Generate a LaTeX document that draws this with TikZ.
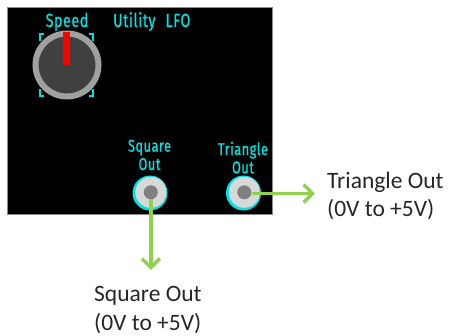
\documentclass[tikz,border=0pt]{standalone}
\usepackage{fontspec}
\setmainfont{Carlito}
\newfontfamily\panelfont[FakeStretch=0.75,FakeBold=0.8,LetterSpace=3]{Fira Sans}
\usetikzlibrary{arrows.meta}
\definecolor{cy}{RGB}{0,225,225}
\definecolor{grn}{RGB}{146,208,80}
\definecolor{knobring}{RGB}{160,160,160}
\definecolor{knobin}{RGB}{64,64,64}
\definecolor{jackgray}{RGB}{216,216,216}
\definecolor{jackin}{RGB}{128,128,128}
\tikzset{
  paneltxt/.style={text=cy, font=\panelfont\fontsize{19}{18.3}\selectfont, inner sep=0pt, align=center},
  jacktxt/.style={paneltxt, font=\panelfont\fontsize{17}{18.3}\selectfont},
  labeltxt/.style={text=black!85, font=\fontsize{23.5}{28.5}\selectfont, inner sep=0pt, align=left},
  jackouter/.style={circle, fill=cy, minimum size=35pt, inner sep=0pt},
  jackmid/.style={circle, fill=jackgray, minimum size=31pt, inner sep=0pt},
  jackcore/.style={circle, fill=jackin, minimum size=14pt, inner sep=0pt},
  outarrow/.style={draw=grn, line width=3.5pt, -{Straight Barb[length=9pt,width=18pt]}},
  bracket/.style={draw=cy, line width=1.5pt},
}
\begin{document}
\begin{tikzpicture}[x=1pt,y=-1pt]
\useasboundingbox (0,0) rectangle (450,335);
% panel
\node[draw=black!45, fill=black, line width=0.8pt, minimum width=265pt, minimum height=207pt, inner sep=0pt, anchor=north west] (panel) at (7,7) {};
% texts on panel
\node[paneltxt, anchor=base] (speed) at (67,27) {Speed};
\node[paneltxt, anchor=base west] (title) at (113,27) {Utility\hspace{10pt}LFO};
% knob brackets
\draw[bracket] (44,34) -- (40,34) -- (40,41);
\draw[bracket] (89,34) -- (93,34) -- (93,41);
\draw[bracket] (44,96) -- (40,96) -- (40,89);
\draw[bracket] (89,96) -- (93,96) -- (93,89);
% knob
\node[circle, fill=knobin, draw=knobring, line width=6pt, minimum size=63pt, inner sep=0pt] (knob) at (67,65) {};
\draw[red, line width=6.5pt] (66.7,32) -- (66.7,64.5);
% jack labels
\node[jacktxt, anchor=base] (sqlbl) at (149.5,170) {Square\\Out};
\node[jacktxt, anchor=base] (trlbl) at (243,173.3) {Triangle\\Out};
% jacks
\node[jackouter] (sqo) at (150,193) {};
\node[jackmid] at (150.8,192.3) {};
\node[jackcore] (sqc) at (150.8,192.3) {};
\node[jackouter] (tro) at (243.5,193) {};
\node[jackmid] at (244.3,192.3) {};
\node[jackcore] (trc) at (244.3,192.3) {};
% arrows
\coordinate (sqend) at (150.8,270);
\coordinate (trend) at (315,193.5);
\draw[outarrow] (sqc.south |- 0,199) -- (sqend);
\draw[outarrow] (trc.east |- 0,193.5) -- (trend);
% outside labels
\node[labeltxt, anchor=base west] (trtxt) at (327,216.7) {Triangle Out\\(0V to +5V)};
\node[labeltxt, anchor=base west] (sqtxt) at (94,330) {Square Out\\(0V to +5V)};
\end{tikzpicture}
\end{document}
